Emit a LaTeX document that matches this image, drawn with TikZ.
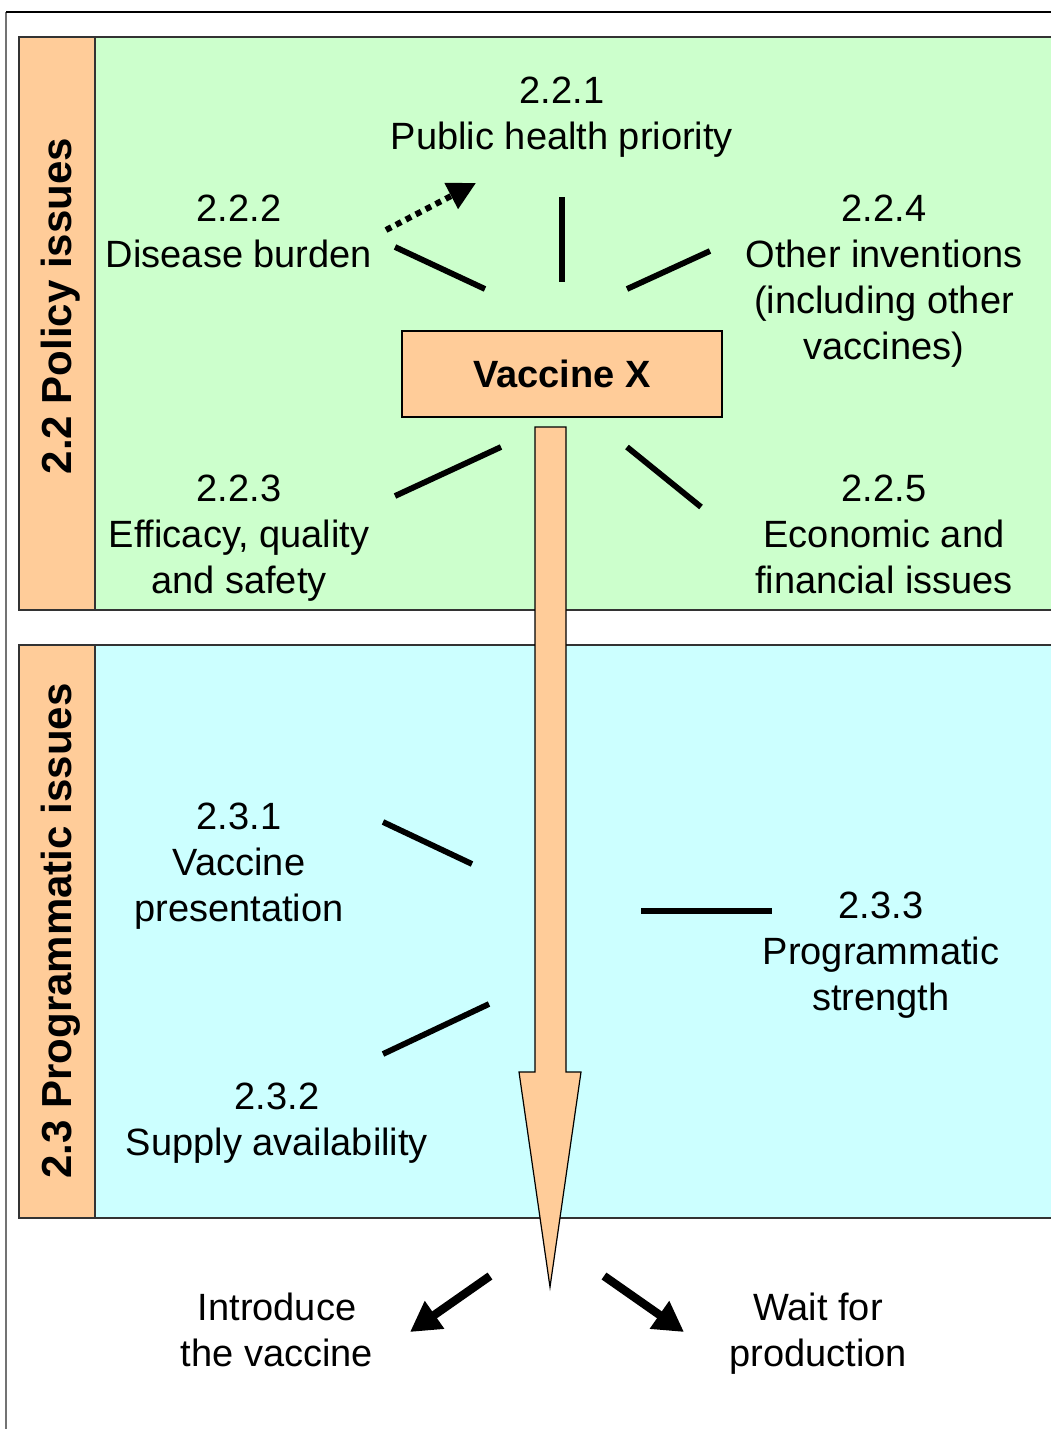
\documentclass[tikz,border=0pt]{standalone}
\usepackage{fontspec}
\setmainfont{Liberation Sans}
\usetikzlibrary{arrows.meta}

\definecolor{policygreen}{RGB}{204,255,204}
\definecolor{progcyan}{RGB}{204,255,255}
\definecolor{peach}{RGB}{255,204,153}

\tikzset{every picture/.style={line width=0.75pt},
  lbl/.style={align=center, inner sep=0pt, font=\fontsize{19}{23}\selectfont},
  sidelbl/.style={rotate=90, inner sep=0pt, font=\fontsize{21}{25}\selectfont\bfseries},
  panel/.style={draw=black!80, line width=0.75pt},
  spoke/.style={line width=2.9pt},
  outcome/.style={-{Triangle[length=15pt,width=16pt]}, line width=4.2pt},
  hint/.style={-{Triangle[length=14pt,width=14pt]}, line width=3pt, dash pattern=on 3pt off 2.6pt}
}

\begin{document}
\begin{tikzpicture}[x=0.5pt,y=0.5pt,yscale=-1,xscale=1]
\useasboundingbox (0,0) rectangle (1050,1429);

%Outer frame
\draw [black!55, line width=1pt] (6,1440) -- (6,12.5) ;
\draw [black, line width=1pt] (6,12.5) -- (1060,12.5) ;

%Shape: Policy panel
\draw [panel, fill=policygreen] (19,37) rectangle (1060,610) ;
\draw [panel, fill=peach] (19,37) rectangle (95,610) ;
%Shape: Programmatic panel
\draw [panel, fill=progcyan] (19,645) rectangle (1060,1218) ;
\draw [panel, fill=peach] (19,645) rectangle (95,1218) ;

% Side labels
\node (policy) [sidelbl] at (61,306) {2.2 Policy issues};
\node (programmatic) [sidelbl] at (61,931) {2.3 Programmatic issues};

%Shape: Big arrow
\draw [fill=peach, line width=0.6pt] (535,427) -- (566,427) -- (566,1072) -- (581,1072) -- (550,1287) -- (519,1072) -- (535,1072) -- cycle ;

% Vaccine box
\node (vaccine) [draw, fill=peach, line width=0.6pt, minimum width=160pt, minimum height=43pt, inner sep=0pt, font=\fontsize{19}{23}\selectfont\bfseries] at (562,374) {Vaccine X};

% Text Node
\node (p221) [lbl] at (562,117) {2.2.1\\Public health priority};
\node (p222) [lbl] at (239,231) {2.2.2\\Disease burden};
\node (p224) [lbl] at (884,281) {2.2.4\\Other inventions\\(including other\\vaccines)};
\node (p223) [lbl] at (239,538) {2.2.3\\Efficacy, quality\\and safety};
\node (p225) [lbl] at (884,534) {2.2.5\\Economic and\\financial issues};
\node (p231) [lbl] at (239,866) {2.3.1\\Vaccine\\presentation};
\node (p233) [lbl] at (881,955) {2.3.3\\Programmatic\\strength};
\node (p232) [lbl] at (277,1123) {2.3.2\\Supply availability};
\node (introduce) [lbl] at (277,1330) {Introduce\\the vaccine};
\node (wait) [lbl] at (818,1334) {Wait for\\production};

%Straight Lines
\draw [spoke] (562,197) -- (562,282) ;
\draw [spoke] (395,247) -- (485,289) ;
\draw [spoke] (627,289) -- (710,251) ;
\draw [spoke] (395,496) -- (501,447) ;
\draw [spoke] (627,447) -- (701,507) ;
\draw [spoke] (383,822) -- (472,864) ;
\draw [spoke] (641,911) -- (772,911) ;
\draw [spoke] (383,1054) -- (489,1004) ;

% Arrows
\coordinate (burdentail) at (386,230) ;
\coordinate (prioritytip) at (476,183) ;
\draw [hint] (burdentail) -- (prioritytip) ;
\coordinate (lefttail) at (490,1276) ;
\coordinate (righttail) at (604,1276) ;
\draw [outcome] (lefttail) -- (410,1332) ;
\draw [outcome] (righttail) -- (684,1332) ;

\end{tikzpicture}
\end{document}
